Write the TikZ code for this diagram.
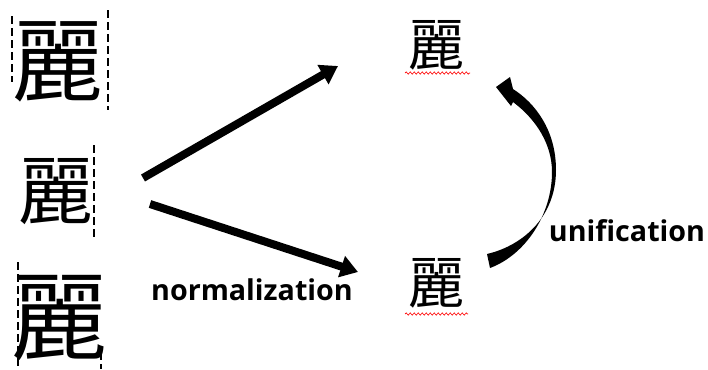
\documentclass[tikz,border=0pt]{standalone}
\usepackage{fontspec}
\setmainfont{Open Sans}
\newfontfamily\cjk{Noto Sans CJK KR}
\newfontfamily\cjkalt{Noto Sans CJK SC}
\usetikzlibrary{arrows.meta,decorations.pathmorphing}
\tikzset{
  hanja/.style={inner sep=0pt, font=\cjk\fontsize{42}{42}\selectfont},
  hanjaalt/.style={inner sep=0pt, font=\cjkalt\fontsize{42}{42}\selectfont},
  brush/.style={inner sep=0pt, font=\cjk\fontsize{#1}{#1}\selectfont},
  wordlbl/.style={inner sep=0pt, font=\bfseries\fontsize{21.5}{21.5}\selectfont},
  fat/.style={line width=6pt, -{Triangle[length=13pt,width=16pt]}},
  scanline/.style={line width=1pt, dash pattern=on 6pt off 3pt},
  squiggle/.style={red, line width=0.5pt, decorate, decoration={snake,amplitude=0.8pt,segment length=3pt}}
}
\begin{document}
\begin{tikzpicture}[x=0.75pt,y=-0.75pt]
\useasboundingbox (0,0) rectangle (708,369);
% handwritten samples
\node[brush=68] (hand1) at (58,62) {麗};
\node[brush=56] (hand2) at (56,192) {麗};
\node[brush=72] (hand3) at (60,318) {麗};
\draw[scanline] (12,16) -- (12,82);
\draw[scanline] (108,10) -- (108,110);
\draw[scanline] (94,145) -- (94,238);
\draw[scanline] (18,262) -- (18,369);
\draw[scanline] (101,352) -- (101,369);
% target characters
\node[hanja] (uni) at (436,45) {\char"9E97};
\node[hanjaalt] (compat) at (436,283) {\char"F988};
\draw[squiggle] (405,73) -- (470,73);
\draw[squiggle] (405,314) -- (468,314);
% normalization arrows
\coordinate (fork1) at (143,178);
\coordinate (fork2) at (150,204);
\coordinate (tip1) at (338,66);
\coordinate (tip2) at (358,272);
\draw[fat] (fork1) -- (tip1);
\draw[fat] (fork2) -- (tip2);
\node[wordlbl] (norm) at (252,290) {normalization};
% unification arrow
\fill (487,254) .. controls (525,245) and (556,215) .. (556,170)
  .. controls (556,130) and (535,103) .. (513,89)
  -- (510,77) -- (496,87) -- (511,106) -- (513,102)
  .. controls (537,120) and (552,145) .. (552,172)
  .. controls (552,215) and (525,255) .. (490,268) -- cycle;
\node[wordlbl] (unif) at (627,231) {unification};
\end{tikzpicture}
\end{document}
